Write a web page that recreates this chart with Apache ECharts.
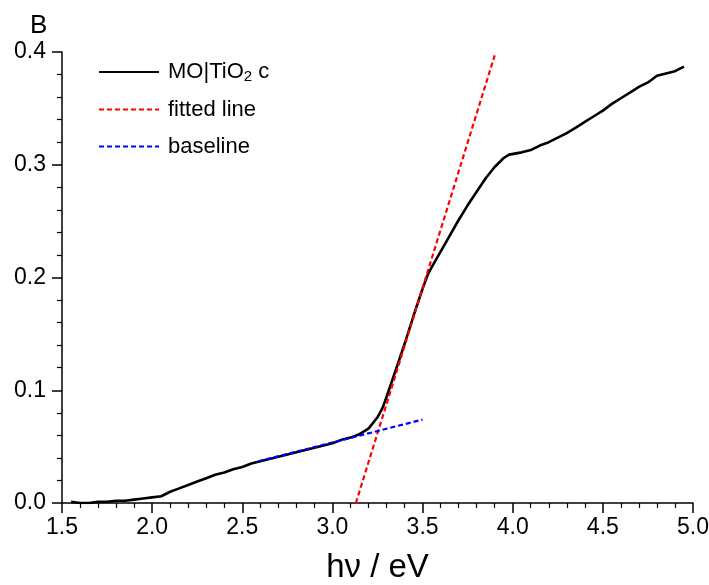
<!DOCTYPE html>
<html>
<head>
<meta charset="utf-8">
<script src="https://cdn.jsdelivr.net/npm/echarts@6/dist/echarts.min.js"></script>
<style>html,body{margin:0;padding:0;background:#fff;}#c{width:709px;height:585px;}</style>
</head>
<body>
<div id="c"></div>
<script>
// Measured curve (hv in eV, absorbance-like value)
var curveX = [1.55,1.60,1.65,1.70,1.75,1.80,1.85,1.90,1.95,2.00,2.05,2.10,2.15,2.20,2.25,2.30,2.35,2.40,2.45,2.50,2.55,2.60,2.65,2.70,2.75,2.80,2.85,2.90,2.95,3.00,3.05,3.10,3.15,3.20,3.25,3.28,3.30,3.33,3.36,3.40,3.43,3.46,3.50,3.53,3.55,3.60,3.65,3.70,3.75,3.80,3.85,3.90,3.95,3.98,4.05,4.10,4.15,4.20,4.25,4.30,4.35,4.40,4.45,4.50,4.55,4.60,4.65,4.70,4.75,4.80,4.85,4.90,4.95];
var curveY = [0.001,0.000,0.000,0.001,0.001,0.002,0.002,0.003,0.004,0.005,0.006,0.010,0.013,0.016,0.019,0.022,0.025,0.027,0.030,0.032,0.035,0.037,0.039,0.041,0.043,0.045,0.047,0.049,0.051,0.053,0.056,0.058,0.061,0.066,0.076,0.085,0.094,0.108,0.122,0.141,0.156,0.171,0.190,0.203,0.209,0.223,0.237,0.251,0.264,0.276,0.288,0.298,0.306,0.309,0.311,0.313,0.317,0.320,0.324,0.328,0.333,0.338,0.343,0.348,0.354,0.359,0.364,0.369,0.373,0.379,0.381,0.383,0.387];
// Fitted line endpoints
var fitX = [3.13, 3.90];
var fitY = [0.000, 0.397];
// Baseline endpoints
var baseX = [2.59, 3.50];
var baseY = [0.037, 0.074];
var xTicks = [1.5, 2.0, 2.5, 3.0, 3.5, 4.0, 4.5, 5.0];
var yTicks = [0.0, 0.1, 0.2, 0.3, 0.4];
var seriesNames = ['MO|TiO{sub|2} c', 'fitted line', 'baseline'];

function pairs(xs, ys){ return xs.map(function(x,i){ return [x, ys[i]]; }); }

var FONT = 'Liberation Sans';
var chart = echarts.init(document.getElementById('c'), null, {renderer:'canvas'});
chart.setOption({
  animation: false,
  backgroundColor: '#ffffff',
  textStyle: {fontFamily: FONT},
  grid: {left: 62, right: 16, top: 52, bottom: 82, containLabel: false, outerBoundsMode: 'none'},
  graphic: [{
    type: 'text', left: 30, top: 13,
    style: {text: 'B', font: '26px "Liberation Sans"', fill: '#000'}
  }],
  legend: {
    orient: 'vertical', left: 93, top: 55,
    itemWidth: 60, itemHeight: 14, itemGap: 14,
    itemStyle: {opacity: 0},
    data: seriesNames,
    textStyle: {
      fontFamily: FONT, fontSize: 22, color: '#000', lineHeight: 23, padding: [0,0,0,4],
      rich: {sub: {fontSize: 15, fontFamily: FONT, color: '#000', padding: [9,0,0,0], lineHeight: 23}}
    }
  },
  xAxis: {
    type: 'value', min: xTicks[0], max: xTicks[xTicks.length-1], interval: 0.5,
    name: 'h\u03bd / eV', nameLocation: 'middle', nameGap: 48,
    nameTextStyle: {fontFamily: FONT, fontSize: 33, color: '#000'},
    axisLine: {show: true, onZero: false, lineStyle: {color: '#000', width: 1.5}},
    axisTick: {show: true, inside: false, length: 10, lineStyle: {color: '#000', width: 1.5}},
    minorTick: {show: true, splitNumber: 5, length: 5, lineStyle: {color: '#000', width: 1.2}},
    splitLine: {show: false},
    axisLabel: {fontFamily: FONT, fontSize: 23, color: '#000', margin: 13,
      formatter: function(v){ return v.toFixed(1); }}
  },
  yAxis: {
    type: 'value', min: yTicks[0], max: yTicks[yTicks.length-1], interval: 0.1,
    axisLine: {show: true, onZero: false, lineStyle: {color: '#000', width: 1.5}},
    axisTick: {show: true, inside: false, length: 10, lineStyle: {color: '#000', width: 1.5}},
    minorTick: {show: true, splitNumber: 5, length: 5, lineStyle: {color: '#000', width: 1.2}},
    splitLine: {show: false},
    axisLabel: {fontFamily: FONT, fontSize: 23, color: '#000', margin: 16,
      formatter: function(v){ return v.toFixed(1); }}
  },
  series: [
    {name: seriesNames[0], type: 'line', data: pairs(curveX, curveY), showSymbol: false, symbol: 'none',
     lineStyle: {color: '#000', width: 2.6}, itemStyle: {color: '#000'}, z: 3},
    {name: seriesNames[1], type: 'line', data: pairs(fitX, fitY), showSymbol: false, symbol: 'none',
     lineStyle: {color: '#ff0000', width: 2.2, type: [5,3]}, itemStyle: {color: '#ff0000'}, z: 4},
    {name: seriesNames[2], type: 'line', data: pairs(baseX, baseY), showSymbol: false, symbol: 'none',
     lineStyle: {color: '#0000ff', width: 2.2, type: [5,3]}, itemStyle: {color: '#0000ff'}, z: 4}
  ]
});
</script>
</body>
</html>
